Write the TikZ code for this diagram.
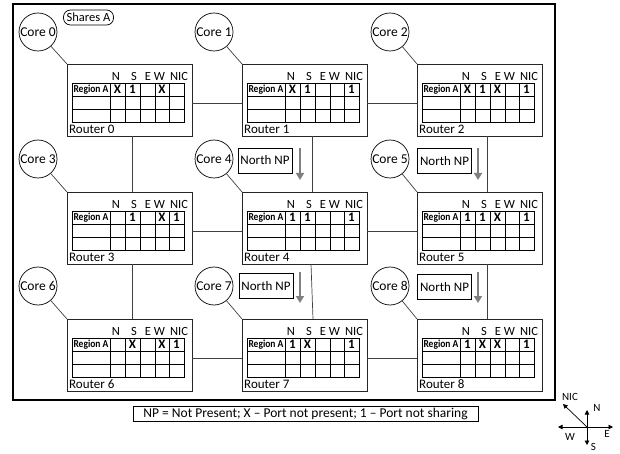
\documentclass[tikz,border=0pt]{standalone}
\usepackage{fontspec}
\usepackage{graphicx}
\setmainfont{Carlito}
\usetikzlibrary{arrows.meta,calc}

\tikzset{
 router/.style={draw=black!85, line width=0.8pt, minimum width=125pt, minimum height=72pt, inner sep=0pt, outer sep=0pt},
 core/.style={draw, line width=0.7pt, circle, minimum size=38pt, inner sep=0pt, font=\fontsize{13.5}{14}\selectfont},
 link/.style={draw=black!75, line width=0.7pt},
 tbl/.style={line width=0.8pt},
 hdr/.style={font=\fontsize{12.5}{13}\selectfont, inner sep=0pt},
 cellv/.style={font=\bfseries\fontsize{13}{14}\selectfont, inner sep=0pt},
 rlab/.style={font=\fontsize{13}{14}\selectfont, inner sep=0pt, anchor=west},
 nbox/.style={draw, line width=0.7pt, minimum width=54pt, minimum height=25pt, inner sep=0pt, font=\fontsize{13}{14}\selectfont},
 nparrow/.style={draw=black!50, line width=1.6pt, -{Triangle[length=7pt,width=8pt]}},
 compass/.style={line width=0.7pt, -{Triangle[length=4.5pt,width=4.5pt]}},
 clab/.style={font=\fontsize{11}{12}\selectfont, inner sep=0pt},
}

% #1 number, #2 x, #3 y, #4..#8 cells N S E W NIC
\newcommand\rtr[8]{%
 \begin{scope}[shift={(#2,#3)}]
 \node[router, anchor=north west] (r#1) at (0,0) {};
 \draw[tbl] (5,19) rectangle (117,58);
 \foreach \yy in {32,45} \draw[tbl] (5,\yy) -- (117,\yy);
 \foreach \xx in {43,58,73,88,102} \draw[tbl] (\xx,19) -- (\xx,58);
 \node[hdr] (r#1hn) at (49,12) {N};
 \node[hdr] (r#1hs) at (67,12) {S};
 \node[hdr] (r#1he) at (81,12) {E};
 \node[hdr] (r#1hw) at (92.5,12) {W};
 \node[hdr] (r#1hc) at (112,12) {NIC};
 \node[inner sep=0pt] (r#1reg) at (24,25.5) {\resizebox{35pt}{7.5pt}{\bfseries Region A}};
 \node[cellv] (r#1n) at (50.5,25.5) {#4};
 \node[cellv] (r#1s) at (65.5,25.5) {#5};
 \node[cellv] (r#1e) at (80.5,25.5) {#6};
 \node[cellv] (r#1w) at (95,25.5) {#7};
 \node[cellv] (r#1c) at (109.5,25.5) {#8};
 \node[rlab] (r#1lab) at (2,65) {Router #1};
 \end{scope}}

\begin{document}
\begin{tikzpicture}[x=1pt,y=-1pt]
\useasboundingbox (0,0) rectangle (620,454);

% frame
\draw[line width=1.4pt] (13,4) rectangle (555,400);

% routers
\rtr{0}{67}{64}{X}{1}{}{X}{}
\rtr{1}{242}{64}{X}{1}{}{}{1}
\rtr{2}{417}{64}{X}{1}{X}{}{1}
\rtr{3}{67}{192}{}{1}{}{X}{1}
\rtr{4}{242}{192}{1}{1}{}{}{1}
\rtr{5}{417}{192}{1}{1}{X}{}{1}
\rtr{6}{67}{319}{}{X}{}{X}{1}
\rtr{7}{242}{319}{1}{X}{}{}{1}
\rtr{8}{417}{319}{1}{X}{X}{}{1}

% cores
\node[core] (c0) at (38,32) {Core 0};
\node[core] (c1) at (214,32) {Core 1};
\node[core] (c2) at (390,32) {Core 2};
\node[core] (c3) at (38,159) {Core 3};
\node[core] (c4) at (214,159) {Core 4};
\node[core] (c5) at (390,159) {Core 5};
\node[core] (c6) at (38,286) {Core 6};
\node[core] (c7) at (214,286) {Core 7};
\node[core] (c8) at (390,286) {Core 8};

\foreach \i in {0,...,8} \draw[link] (c\i) -- (r\i.north west);

% horizontal links
\foreach \a/\b in {0/1,1/2,3/4,4/5,6/7,7/8}
  \draw[link] ([yshift=-3pt]r\a.east) -- ([yshift=-3pt]r\b.west);
% vertical links
\draw[link] ([xshift=2.5pt]r0.south) -- ([xshift=2.5pt]r3.north);
\draw[link] ([xshift=2.5pt]r3.south) -- ([xshift=2.5pt]r6.north);
\draw[link] ([xshift=7.5pt]r1.south) -- ([xshift=7.5pt]r4.north);
\draw[link] ([xshift=6.5pt]r4.south) -- ([xshift=8.5pt]r7.north);
\draw[link] ([xshift=7.5pt]r2.south) -- ([xshift=7.5pt]r5.north);
\draw[link] ([xshift=7.5pt]r5.south) -- ([xshift=7.5pt]r8.north);

% Shares A
\node[draw, line width=0.7pt, rounded corners=7pt, minimum width=50pt, minimum height=15pt, inner sep=0pt, font=\fontsize{12.5}{13}\selectfont] (shares) at (88.5,17.5) {Shares A};

% North NP boxes and arrows
\node[nbox] (np4) at (265,160.5) {North NP};
\node[nbox] (np5) at (444.5,161) {North NP};
\node[nbox] (np7) at (266,286) {North NP};
\node[nbox] (np8) at (444.5,287) {North NP};
\coordinate (a4s) at (300,148); \coordinate (a4e) at (300,180);
\coordinate (a5s) at (478,148); \coordinate (a5e) at (478,180);
\coordinate (a7s) at (300,272); \coordinate (a7e) at (300,303);
\coordinate (a8s) at (478,272); \coordinate (a8e) at (478,303);
\foreach \k in {4,5,7,8} \draw[nparrow] (a\k s) -- (a\k e);

% legend
\node[draw, line width=0.7pt, minimum width=345pt, minimum height=15pt, inner sep=0pt, font=\fontsize{13.5}{14}\selectfont] (legend) at (305.5,413.5) {NP = Not Present; X – Port not present; 1 – Port not sharing};

% compass
\coordinate (cc) at (587,427);
\coordinate (cn) at (587,410);
\coordinate (cs) at (587,445);
\coordinate (cw) at (558,427);
\coordinate (ce) at (613,427);
\coordinate (cnic) at (563,404);
\foreach \d in {cn,cs,cw,ce,cnic} \draw[compass] (cc) -- (\d);
\node[clab] (ln) at (597,408) {N};
\node[clab] (ls) at (593.5,446.5) {S};
\node[clab] (lw) at (570,437) {W};
\node[clab] (le) at (607,434) {E};
\node[clab] (lnic) at (570,397) {NIC};
\end{tikzpicture}
\end{document}
